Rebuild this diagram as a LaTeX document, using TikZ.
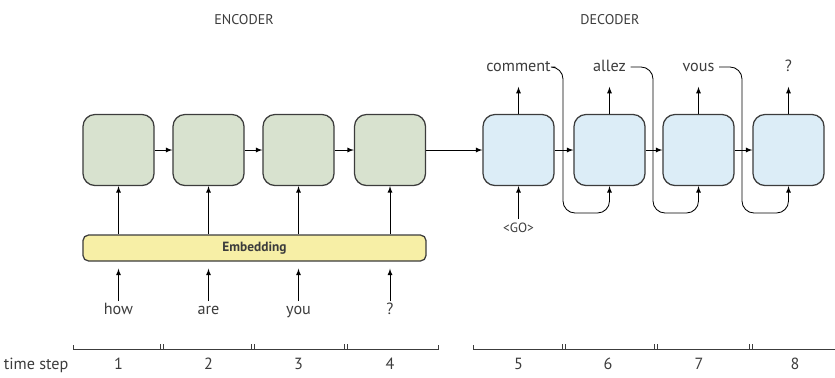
\documentclass[tikz,border=0pt]{standalone}
\usepackage{fontspec}
\setmainfont{PT Sans}
\usepackage{circuitikz}

\definecolor{encfill}{HTML}{D8E2CF}
\definecolor{decfill}{HTML}{DCEDF7}
\definecolor{embfill}{HTML}{F7EFA6}
\definecolor{linegray}{HTML}{3C3C3C}

\tikzset{
  cell/.style={draw=linegray, line width=0.9pt, rounded corners=0.3cm,
    minimum width=1.775cm, minimum height=1.775cm},
  enccell/.style={cell, fill=encfill},
  deccell/.style={cell, fill=decfill},
  word/.style={font=\fontsize{11.5}{13}\selectfont, inner sep=1pt,
    text height=1.6ex, text depth=0.4ex, text=linegray},
  title/.style={font=\fontsize{10}{12}\selectfont, text=linegray},
  tick/.style={line width=0.6pt, draw=linegray},
}

\begin{document}
\begin{tikzpicture}[x=0.025cm, y=-0.025cm, >=latex, line width=0.6pt]

\useasboundingbox (0,0) rectangle (835,377);

\node[title] (enc) at (244,20) {ENCODER};
\node[title] (dec) at (610,20) {DECODER};

% cells
\node[enccell] (E1) at (118.5,150) {};
\node[enccell] (E2) at (208.5,150) {};
\node[enccell] (E3) at (298.5,150) {};
\node[enccell] (E4) at (390,150) {};
\node[deccell] (D5) at (518.5,150) {};
\node[deccell] (D6) at (609.5,150) {};
\node[deccell] (D7) at (698.5,150) {};
\node[deccell] (D8) at (788.5,150) {};

\draw[->] (E1) -- (E2);
\draw[->] (E2) -- (E3);
\draw[->] (E3) -- (E4);
\draw[->] (E4) -- (D5);
\draw[->] (D5) -- (D6);
\draw[->] (D6) -- (D7);
\draw[->] (D7) -- (D8);

% embedding
\node[draw=linegray, line width=0.9pt, fill=embfill, rounded corners=4pt,
  minimum width=8.575cm, minimum height=0.65cm, text=linegray,
  font=\bfseries\fontsize{9.5}{11}\selectfont] (emb) at (254.5,248) {Embedding};

\node[word] (w1) at (118.5,310) {how};
\node[word] (w2) at (208.5,310) {are};
\node[word] (w3) at (298.5,310) {you};
\node[word] (w4) at (390,310) {?};

\foreach \i in {1,2,3,4} {
  \draw[->] (E\i |- emb.north) -- (E\i.south);
  \draw[->, shorten >=5pt] (w\i.north) -- (w\i |- emb.south);
}

% decoder in/out
\node[word, font=\fontsize{9.5}{11}\selectfont] (go) at (518.5,228) {<GO>};
\draw[->] (go.north) -- (D5.south);

\node[word] (o5) at (518.5,67) {comment};
\node[word] (o6) at (609.5,67) {allez};
\node[word] (o7) at (698.5,67) {vous};
\node[word] (o8) at (788.5,67) {?};

\foreach \i in {5,6,7,8} {
  \draw[->] (D\i.north) -- ++(0,-27);
}

\coordinate (fb5) at (563,213);
\coordinate (fb6) at (653,213);
\coordinate (fb7) at (742,213);

\draw[->, rounded corners=0.3cm] ([xshift=2pt]o5.east) -| (fb5) -| (D6.south);
\draw[->, rounded corners=0.3cm] ([xshift=2pt]o6.east) -| (fb6) -| (D7.south);
\draw[->, rounded corners=0.3cm] ([xshift=2pt]o7.east) -| (fb7) -| (D8.south);

% time axis
\node[word, anchor=west] (ts) at (2,365) {time step};

\draw[tick] (73,345) -- (73,349) -- (438,349) -- (438,345);
\draw[tick] (473,345) -- (473,349) -- (835,349);
\foreach \x in {162,253,346,564,656,751} {
  \draw[tick] (\x-1.5,344) -- (\x-1.5,349) (\x+1.5,344) -- (\x+1.5,349);
}

\node[word] (n1) at (118.5,365) {1};
\node[word] (n2) at (208.5,365) {2};
\node[word] (n3) at (298.5,365) {3};
\node[word] (n4) at (390,365) {4};
\node[word] (n5) at (518.5,365) {5};
\node[word] (n6) at (608,365) {6};
\node[word] (n7) at (699,365) {7};
\node[word] (n8) at (795,365) {8};

\end{tikzpicture}
\end{document}
